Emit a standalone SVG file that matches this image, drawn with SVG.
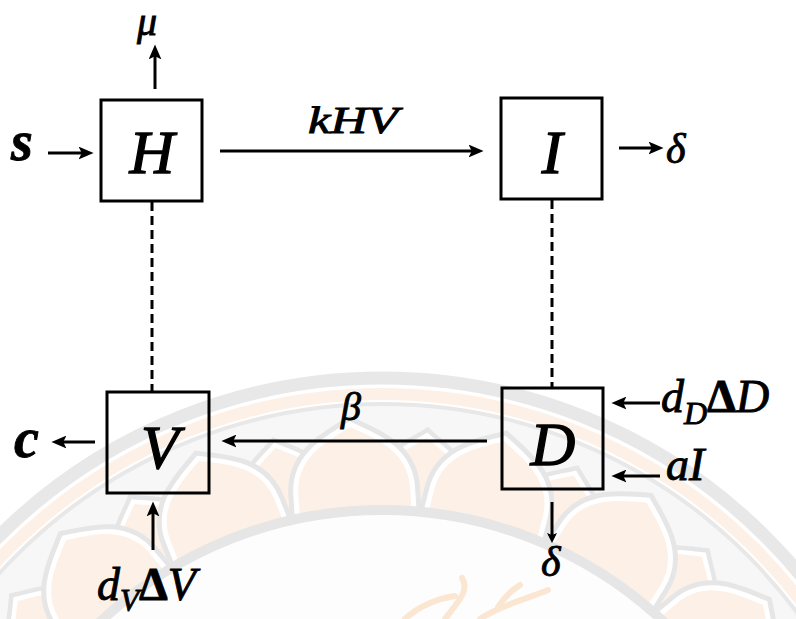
<svg xmlns="http://www.w3.org/2000/svg" width="796" height="619" viewBox="0 0 796 619">
<defs>
<style>
.box{fill:none;stroke:#000;stroke-width:3}
.ln{stroke:#000;stroke-width:3;fill:none}
.dash{stroke:#000;stroke-width:3;stroke-dasharray:9 5;fill:none}
.lbl{font-family:"Liberation Serif","Times New Roman",serif;font-style:italic;fill:#000;stroke:#000;stroke-width:0.9}
.big{font-size:62px;text-anchor:middle;stroke-width:1.3}
.wm-g{fill:none;stroke:#e8e8e8}
.wm-p{fill:none;stroke:#fdf1e7}
</style>
<marker id="ah" viewBox="0 0 14 12" refX="6" refY="6" markerWidth="15" markerHeight="13" markerUnits="userSpaceOnUse" orient="auto">
<path d="M0,0 L14,6 L0,12 L3,6 z" fill="#000"/>
</marker>
<marker id="ahs" viewBox="0 0 10 10" refX="4" refY="5" markerWidth="10" markerHeight="10" markerUnits="userSpaceOnUse" orient="auto">
<path d="M0,0 L10,5 L0,10 L2,5 z" fill="#000"/>
</marker>
<path id="pp" d="M326,512 L326,490 C326,452 360,438 382,426 C404,438 438,452 438,490 L438,512"/>
<path id="pq" d="M340,512 L340,488 C340,460 366,448 382,436 C398,448 424,460 424,488 L424,512"/>
<g id="petal">
<use href="#pp" fill="none" stroke="#e6e6e6" stroke-width="20"/>
<use href="#pp" fill="none" stroke="#fff" stroke-width="10"/>
<use href="#pp" fill="#fdf1e7" stroke="none"/>
</g>
<g id="petal2">
<use href="#pq" fill="none" stroke="#e6e6e6" stroke-width="18"/>
<use href="#pq" fill="none" stroke="#fff" stroke-width="9"/>
<use href="#pq" fill="#fdf1e7" stroke="none"/>
</g>
</defs>
<rect width="796" height="619" fill="#fff"/>
<g id="watermark">
<circle cx="382" cy="921" r="543" class="wm-g" stroke-width="13"/>
<circle cx="382" cy="921" r="527" class="wm-p" stroke-width="12"/>
<circle cx="382" cy="921" r="517" fill="#f7f7f7" stroke="#e8e8e8" stroke-width="4"/>
<g>
<use href="#petal2" transform="rotate(-84.7 382 921)"/>
<use href="#petal2" transform="rotate(-66.7 382 921)"/>
<use href="#petal2" transform="rotate(-48.7 382 921)"/>
<use href="#petal2" transform="rotate(-30.7 382 921)"/>
<use href="#petal2" transform="rotate(-12.7 382 921)"/>
<use href="#petal2" transform="rotate(5.3 382 921)"/>
<use href="#petal2" transform="rotate(23.3 382 921)"/>
<use href="#petal2" transform="rotate(41.3 382 921)"/>
<use href="#petal2" transform="rotate(59.3 382 921)"/>
<use href="#petal2" transform="rotate(77.3 382 921)"/>
</g>
<g>
<use href="#petal" transform="rotate(-75.7 382 921)"/>
<use href="#petal" transform="rotate(-57.7 382 921)"/>
<use href="#petal" transform="rotate(-39.7 382 921)"/>
<use href="#petal" transform="rotate(-21.7 382 921)"/>
<use href="#petal" transform="rotate(-3.7 382 921)"/>
<use href="#petal" transform="rotate(14.3 382 921)"/>
<use href="#petal" transform="rotate(32.3 382 921)"/>
<use href="#petal" transform="rotate(50.3 382 921)"/>
<use href="#petal" transform="rotate(68.3 382 921)"/>
<use href="#petal" transform="rotate(86.3 382 921)"/>
</g>
<circle cx="382" cy="921" r="411" fill="#fdfdfd" stroke="#e6e6e6" stroke-width="10"/>
<g fill="none" stroke="#fbe6d2" stroke-width="6" stroke-linecap="round">
<path d="M405,619 C420,605 440,598 455,596"/>
<path d="M445,619 C458,602 470,590 462,578"/>
<path d="M480,619 C500,605 530,598 548,590"/>
<path d="M498,607 C505,596 512,590 520,585"/>
</g>
</g>
<g id="connectors">
<line class="ln" x1="155" y1="89" x2="155" y2="53" marker-end="url(#ah)"/>
<line class="ln" x1="48" y1="153" x2="85" y2="153" marker-end="url(#ah)"/>
<line class="ln" x1="220" y1="151" x2="475" y2="151" marker-end="url(#ah)"/>
<line class="ln" x1="619" y1="148" x2="655" y2="148" marker-end="url(#ah)"/>
<line class="dash" x1="152" y1="202" x2="152" y2="391"/>
<line class="dash" x1="552" y1="200" x2="552" y2="387"/>
<line class="ln" x1="95" y1="442" x2="60" y2="442" marker-end="url(#ah)"/>
<line class="ln" x1="487" y1="441" x2="230" y2="441" marker-end="url(#ah)"/>
<line class="ln" x1="153" y1="550" x2="153" y2="510" marker-end="url(#ah)"/>
<line class="ln" x1="660" y1="403" x2="620" y2="403" marker-end="url(#ah)"/>
<line class="ln" x1="660" y1="476" x2="620" y2="476" marker-end="url(#ah)"/>
<line class="ln" stroke-width="2.5" x1="552" y1="502" x2="552" y2="537" marker-end="url(#ahs)"/>
</g>
<g id="node-H">
<rect class="box" x="101" y="100" width="101" height="101"/>
<text class="lbl big" x="152" y="173">H</text>
</g>
<g id="node-I">
<rect class="box" x="501" y="98" width="101" height="101"/>
<text class="lbl big" x="552" y="173">I</text>
</g>
<g id="node-V">
<rect class="box" x="107" y="392" width="102" height="101"/>
<text class="lbl big" x="160" y="468">V</text>
</g>
<g id="node-D">
<rect class="box" x="502" y="388" width="101" height="101"/>
<text class="lbl big" x="553" y="465">D</text>
</g>
<g id="labels">
<text class="lbl" x="137" y="35" font-size="40">μ</text>
<text class="lbl" x="11" y="160" font-size="56" font-weight="bold">s</text>
<text class="lbl" x="308" y="133" font-size="38" textLength="90" lengthAdjust="spacingAndGlyphs">kHV</text>
<text class="lbl" x="666" y="163" font-size="42">δ</text>
<text class="lbl" x="14" y="457" font-size="56" font-weight="bold">c</text>
<text class="lbl" x="341" y="420" font-size="40">β</text>
<text class="lbl" x="97" y="600" font-size="46">d<tspan font-size="31" dy="11">V</tspan><tspan dy="-11" font-style="normal" font-weight="bold">Δ</tspan>V</text>
<text class="lbl" x="661" y="412" font-size="46">d<tspan font-size="32" dy="12">D</tspan><tspan dy="-12" font-style="normal" font-weight="bold">Δ</tspan>D</text>
<text class="lbl" x="666" y="480" font-size="46">aI</text>
<text class="lbl" x="541" y="576" font-size="42">δ</text>
</g>
</svg>
